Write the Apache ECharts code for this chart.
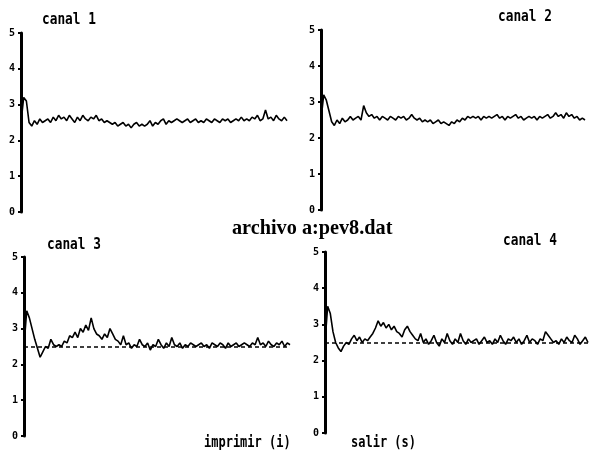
<!DOCTYPE html>
<html>
<head>
<meta charset="utf-8">
<script src="https://cdn.jsdelivr.net/npm/echarts@6/dist/echarts.min.js"></script>
<style>
  html, body { margin: 0; padding: 0; background: #fff; }
  #chart { width: 590px; height: 458px; }
</style>
</head>
<body>
<div id="chart"></div>
<script>
// y axis ticks shared by all four channels
const yTicks = [0, 1, 2, 3, 4, 5];
const titles = ['canal 1', 'canal 2', 'canal 3', 'canal 4'];

// values, roughly 100 samples per channel
const canal1 = [2.5, 3.2, 3.1, 2.5, 2.4, 2.55, 2.45, 2.6, 2.5, 2.55,
  2.6, 2.5, 2.65, 2.55, 2.7, 2.6, 2.65, 2.55, 2.7, 2.6,
  2.5, 2.65, 2.55, 2.7, 2.6, 2.55, 2.65, 2.6, 2.7, 2.55,
  2.6, 2.5, 2.55, 2.5, 2.45, 2.5, 2.4, 2.45, 2.5, 2.4,
  2.45, 2.35, 2.45, 2.5, 2.4, 2.45, 2.4, 2.45, 2.55, 2.4,
  2.5, 2.45, 2.55, 2.6, 2.45, 2.55, 2.5, 2.55, 2.6, 2.55,
  2.5, 2.55, 2.6, 2.5, 2.55, 2.6, 2.5, 2.55, 2.5, 2.6,
  2.55, 2.5, 2.6, 2.55, 2.5, 2.6, 2.55, 2.6, 2.5, 2.55,
  2.6, 2.55, 2.65, 2.55, 2.6, 2.55, 2.65, 2.6, 2.7, 2.55,
  2.6, 2.85, 2.6, 2.65, 2.55, 2.7, 2.6, 2.55, 2.65, 2.55];

const canal2 = [2.5, 3.2, 3.05, 2.75, 2.45, 2.35, 2.5, 2.4, 2.55, 2.45,
  2.5, 2.6, 2.5, 2.55, 2.6, 2.5, 2.9, 2.7, 2.6, 2.65,
  2.55, 2.6, 2.5, 2.6, 2.55, 2.5, 2.6, 2.55, 2.5, 2.6,
  2.55, 2.6, 2.5, 2.55, 2.65, 2.55, 2.5, 2.55, 2.45, 2.5,
  2.45, 2.5, 2.4, 2.45, 2.5, 2.4, 2.45, 2.4, 2.35, 2.45,
  2.4, 2.5, 2.45, 2.55, 2.5, 2.6, 2.55, 2.6, 2.55, 2.6,
  2.5, 2.6, 2.55, 2.6, 2.55, 2.6, 2.65, 2.55, 2.6, 2.5,
  2.6, 2.55, 2.6, 2.65, 2.55, 2.6, 2.5, 2.55, 2.6, 2.55,
  2.6, 2.5, 2.6, 2.55, 2.6, 2.65, 2.55, 2.6, 2.7, 2.6,
  2.65, 2.55, 2.7, 2.6, 2.65, 2.55, 2.6, 2.5, 2.55, 2.5];

const canal3 = [2.5, 3.5, 3.3, 3.0, 2.7, 2.45, 2.2, 2.35, 2.5, 2.45,
  2.7, 2.55, 2.5, 2.55, 2.5, 2.65, 2.6, 2.8, 2.75, 2.9,
  2.75, 3.0, 2.9, 3.1, 2.95, 3.3, 3.0, 2.85, 2.8, 2.7,
  2.85, 2.75, 3.0, 2.85, 2.7, 2.65, 2.55, 2.8, 2.55, 2.6,
  2.45, 2.55, 2.5, 2.7, 2.55, 2.5, 2.6, 2.4, 2.55, 2.5,
  2.7, 2.55, 2.45, 2.6, 2.5, 2.75, 2.55, 2.5, 2.6, 2.45,
  2.55, 2.5, 2.6, 2.55, 2.5, 2.55, 2.6, 2.5, 2.55, 2.45,
  2.6, 2.55, 2.5, 2.6, 2.55, 2.45, 2.6, 2.5, 2.55, 2.6,
  2.5, 2.55, 2.6, 2.55, 2.5, 2.6, 2.55, 2.75, 2.55, 2.6,
  2.5, 2.65, 2.55, 2.5, 2.6, 2.55, 2.65, 2.5, 2.6, 2.55];

const canal4 = [2.5, 3.5, 3.3, 2.8, 2.5, 2.35, 2.25, 2.4, 2.5, 2.45,
  2.6, 2.7, 2.55, 2.65, 2.5, 2.6, 2.55, 2.65, 2.75, 2.9,
  3.1, 2.95, 3.05, 2.9, 3.0, 2.85, 2.95, 2.8, 2.75, 2.65,
  2.85, 2.95, 2.8, 2.7, 2.6, 2.55, 2.75, 2.5, 2.6, 2.45,
  2.55, 2.7, 2.5, 2.4, 2.6, 2.5, 2.75, 2.55, 2.45, 2.6,
  2.5, 2.75, 2.55, 2.45, 2.6, 2.5, 2.55, 2.6, 2.45, 2.55,
  2.65, 2.5, 2.55, 2.45, 2.6, 2.5, 2.7, 2.55, 2.45, 2.6,
  2.55, 2.65, 2.5, 2.6, 2.45, 2.55, 2.7, 2.5, 2.6, 2.55,
  2.45, 2.6, 2.55, 2.8, 2.7, 2.6, 2.5, 2.55, 2.45, 2.6,
  2.5, 2.65, 2.55, 2.5, 2.7, 2.6, 2.45, 2.55, 2.65, 2.5];

const channels = [canal1, canal2, canal3, canal4];
const baseline = 2.5;

// panel boxes (plot area, px)
const grids = [
  { left: 21, top: 33, width: 266, height: 179 },
  { left: 321, top: 30, width: 264, height: 180 },
  { left: 24, top: 257, width: 266, height: 179 },
  { left: 325, top: 252, width: 263, height: 181 }
];

const chart = echarts.init(document.getElementById('chart'));

const monoFont = '"DejaVu Sans Mono", monospace';

const option = {
  animation: false,
  backgroundColor: '#fff',
  grid: grids,
  xAxis: grids.map((g, i) => ({
    gridIndex: i,
    type: 'value',
    min: 0,
    max: channels[i].length - 1,
    show: false
  })),
  yAxis: grids.map((g, i) => ({
    gridIndex: i,
    type: 'value',
    min: yTicks[0],
    max: yTicks[yTicks.length - 1],
    interval: 1,
    splitLine: { show: false },
    axisLine: { show: true, lineStyle: { color: '#000', width: 3 } },
    axisTick: { show: true, length: 3, lineStyle: { color: '#000', width: 2 } },
    axisLabel: {
      color: '#000',
      fontFamily: monoFont,
      fontWeight: 'bold',
      fontSize: 10,
      margin: 6
    }
  })),
  series: channels.map((vals, i) => {
    const s = {
      type: 'line',
      xAxisIndex: i,
      yAxisIndex: i,
      data: vals.map((v, j) => [j, v]),
      showSymbol: false,
      lineStyle: { color: '#000', width: 1.6 }
    };
    if (i >= 2) {
      s.markLine = {
        silent: true,
        symbol: 'none',
        label: { show: false },
        lineStyle: { color: '#000', type: [4, 3], width: 1.5 },
        data: [{ yAxis: baseline }]
      };
    }
    return s;
  }),
  graphic: [
    { type: 'text', left: 42, top: 12, scaleX: 0.8, style: { text: titles[0], font: 'bold 16px ' + monoFont, fill: '#000' } },
    { type: 'text', left: 498, top: 9, scaleX: 0.8, style: { text: titles[1], font: 'bold 16px ' + monoFont, fill: '#000' } },
    { type: 'text', left: 47, top: 237, scaleX: 0.8, style: { text: titles[2], font: 'bold 16px ' + monoFont, fill: '#000' } },
    { type: 'text', left: 503, top: 233, scaleX: 0.8, style: { text: titles[3], font: 'bold 16px ' + monoFont, fill: '#000' } },
    { type: 'text', left: 232, top: 217, scaleX: 0.92, style: { text: 'archivo a:pev8.dat', font: 'bold 22px "Liberation Serif", serif', fill: '#000' } },
    { type: 'text', left: 204, top: 436, scaleX: 0.8, style: { text: 'imprimir (i)', font: 'bold 15px ' + monoFont, fill: '#000' } },
    { type: 'text', left: 351, top: 436, scaleX: 0.8, style: { text: 'salir (s)', font: 'bold 15px ' + monoFont, fill: '#000' } }
  ]
};

chart.setOption(option);
</script>
</body>
</html>
